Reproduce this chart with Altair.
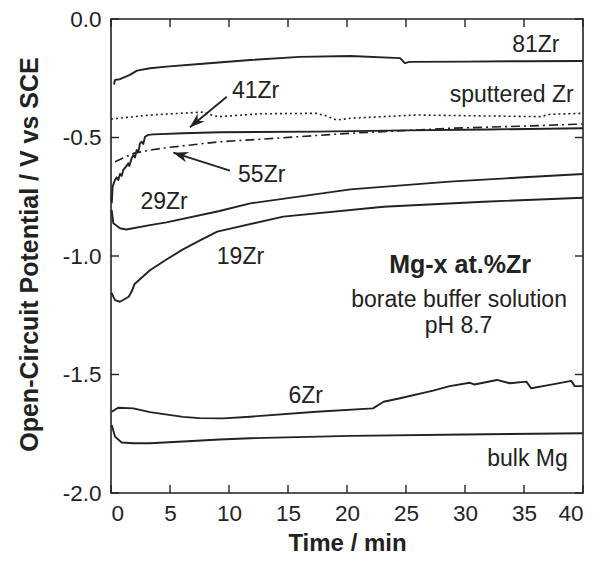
import altair as alt
import pandas as pd

# ---- data ----
t_81 = [0.25, 0.34, 0.76, 1.6, 2.2, 3.3, 4.7, 7.5, 11.8, 16, 20.3, 24.5, 24.9, 25.3, 30, 35, 40]
v_81 = [-0.276, -0.257, -0.254, -0.236, -0.218, -0.208, -0.201, -0.19, -0.173, -0.16, -0.156, -0.165, -0.186, -0.181, -0.180, -0.178, -0.177]

t_spz = [0, 3.3, 7.3, 7.8, 8.7, 9.2, 12.6, 17.4, 18.3, 19.1, 20.3, 25.9, 30, 36.4, 37.2, 40]
v_spz = [-0.422, -0.405, -0.394, -0.393, -0.408, -0.412, -0.400, -0.398, -0.410, -0.426, -0.419, -0.405, -0.408, -0.412, -0.402, -0.398]

t_41 = [0.06, 0.14, 0.34, 0.48, 0.62, 0.76, 0.9, 1.04, 1.27, 1.47, 1.55, 1.75, 1.89, 2.03, 2.18, 2.32, 2.46, 2.6, 2.74, 2.88, 3.16, 3.6, 6.1, 9.2, 17.4, 25, 32, 40]
v_41 = [-0.778, -0.707, -0.679, -0.668, -0.679, -0.654, -0.662, -0.637, -0.623, -0.609, -0.62, -0.588, -0.574, -0.584, -0.553, -0.56, -0.525, -0.518, -0.527, -0.497, -0.489, -0.487, -0.482, -0.478, -0.475, -0.470, -0.466, -0.461]

t_55 = [0.34, 1.9, 3.3, 4.7, 9.2, 11.8, 20.3, 28.7, 35, 40]
v_55 = [-0.602, -0.567, -0.553, -0.543, -0.518, -0.51, -0.482, -0.461, -0.452, -0.443]

t_29 = [0.06, 0.2, 0.76, 1.3, 3.3, 4.7, 9.2, 11.8, 20.3, 28.7, 35, 40]
v_29 = [-0.806, -0.862, -0.883, -0.888, -0.870, -0.858, -0.81, -0.778, -0.719, -0.686, -0.668, -0.654]

t_19 = [0.06, 0.34, 0.76, 1.5, 1.75, 2.0, 3.3, 4.7, 6.1, 7.5, 9, 14.6, 23.1, 31.6, 40]
v_19 = [-1.157, -1.186, -1.193, -1.172, -1.15, -1.118, -1.06, -1.015, -0.972, -0.935, -0.897, -0.834, -0.792, -0.771, -0.754]

t_6 = [0.06, 0.6, 1.9, 3.3, 6.1, 7.5, 9.5, 11.8, 17.4, 22.2, 23.1, 24.5, 27.3, 28.7, 30.4, 30.8, 32.7, 33.8, 35.2, 35.6, 37.2, 39, 39.3, 40]
v_6 = [-1.657, -1.64, -1.643, -1.659, -1.679, -1.684, -1.685, -1.678, -1.657, -1.643, -1.615, -1.6, -1.568, -1.549, -1.535, -1.542, -1.523, -1.537, -1.53, -1.558, -1.544, -1.527, -1.549, -1.549]

t_mg = [0.06, 0.34, 0.9, 1.9, 3.3, 6.1, 9.2, 11.8, 20.3, 30, 40]
v_mg = [-1.713, -1.762, -1.787, -1.79, -1.79, -1.783, -1.774, -1.769, -1.759, -1.753, -1.748]

label_text = ["81Zr", "41Zr", "sputtered Zr", "55Zr", "29Zr", "19Zr", "6Zr", "bulk Mg"]
label_t = [36.0, 12.25, 33.96, 12.77, 4.5, 10.97, 16.5, 35.3]
label_v = [-0.138, -0.335, -0.349, -0.689, -0.803, -1.035, -1.619, -1.886]

note_text = ["borate buffer solution", "pH 8.7"]
note_t = [29.5, 29.45]
note_v = [-1.215, -1.324]
head_text = ["Mg-x at.%Zr"]
head_t = [29.58]
head_v = [-1.072]

arrow_t0 = [9.81, 10.08]
arrow_v0 = [-0.328, -0.640]
arrow_t1 = [6.69, 5.28]
arrow_v1 = [-0.457, -0.564]
arrow_angle = [228.8, 287.6]

x_ticks = [0, 5, 10, 15, 20, 25, 30, 35, 40]
y_ticks = [0.0, -0.5, -1.0, -1.5, -2.0]

# ---- tables ----
def series(name, t, v):
    return pd.DataFrame({"series": name, "t": t, "v": v})

solid = pd.concat([
    series("81Zr", t_81, v_81),
    series("41Zr", t_41, v_41),
    series("29Zr", t_29, v_29),
    series("19Zr", t_19, v_19),
    series("6Zr", t_6, v_6),
    series("bulk Mg", t_mg, v_mg),
])
dotted = series("sputtered Zr", t_spz, v_spz)
dashdot = series("55Zr", t_55, v_55)

labels = pd.DataFrame({"text": label_text, "t": label_t, "v": label_v})
notes = pd.DataFrame({"text": note_text, "t": note_t, "v": note_v})
heads = pd.DataFrame({"text": head_text, "t": head_t, "v": head_v})
arrows = pd.DataFrame({"t": arrow_t0, "v": arrow_v0, "t1": arrow_t1, "v1": arrow_v1, "angle": arrow_angle})
heads_pts = pd.DataFrame({"t": arrow_t1, "v": arrow_v1, "angle": arrow_angle})
xt = pd.DataFrame({"t": x_ticks})
yt = pd.DataFrame({"v": y_ticks})

FONT = "Liberation Sans"
INK = "#222222"
W, H = 472, 474

xscale = alt.Scale(domain=[0, 40], nice=False, zero=False)
yscale = alt.Scale(domain=[-2, 0], nice=False, zero=False)

xaxis = alt.Axis(
    values=x_ticks, title="Time / min", grid=False, domain=False, ticks=False, tickSize=0,
    labelPadding=9, labelFontSize=22.5, titleY=57, titleBaseline="alphabetic")
yaxis = alt.Axis(
    values=y_ticks, title="Open-Circuit Potential / V vs SCE", grid=False, domain=False,
    ticks=False, tickSize=0, labelPadding=10, labelFontSize=22.5,
    labelExpr="datum.value == 0 ? '0.0' : '-' + format(abs(datum.value), '.1f')",
    titleX=-82, titleY=H / 2 - 2, titleAngle=270, titleAlign="center", titleBaseline="middle",
    titleFontSize=25)

X = alt.X("t:Q", scale=xscale, axis=xaxis)
Y = alt.Y("v:Q", scale=yscale, axis=yaxis)

solid_layer = alt.Chart(solid).mark_line(color=INK, strokeWidth=1.9, strokeJoin="round").encode(
    x=X, y=Y, detail="series:N", order=alt.Order("t:Q"))
dotted_layer = alt.Chart(dotted).mark_line(color=INK, strokeWidth=1.6, strokeDash=[2, 3]).encode(
    x=X, y=Y, order=alt.Order("t:Q"))
dashdot_layer = alt.Chart(dashdot).mark_line(color=INK, strokeWidth=1.6, strokeDash=[9, 4, 2, 4]).encode(
    x=X, y=Y, order=alt.Order("t:Q"))

label_layer = alt.Chart(labels).mark_text(font=FONT, fontSize=23, color=INK, align="center", baseline="alphabetic").encode(
    x=X, y=Y, text="text:N")
note_layer = alt.Chart(notes).mark_text(font=FONT, fontSize=23, color=INK, align="center", baseline="alphabetic").encode(
    x=X, y=Y, text="text:N")
head_layer = alt.Chart(heads).mark_text(font=FONT, fontSize=25, fontWeight="bold", color=INK, align="center", baseline="alphabetic").encode(
    x=X, y=Y, text="text:N")

arrow_line = alt.Chart(arrows).mark_rule(color=INK, strokeWidth=1.8).encode(
    x=X, y=Y, x2="t1:Q", y2="v1:Q")
arrow_head = alt.Chart(heads_pts).mark_point(
    shape="M0,0 L-0.6,1.65 L0,1.15 L0.6,1.65 Z", filled=True, color=INK, opacity=1, size=324, strokeWidth=0
).encode(x=X, y=Y, angle=alt.Angle("angle:Q", scale=None))

tick_bottom = alt.Chart(xt).mark_rule(color=INK, strokeWidth=1.4).encode(
    x=X, y=alt.value(H), y2=alt.value(H - 8))
tick_top = alt.Chart(xt).mark_rule(color=INK, strokeWidth=1.4).encode(
    x=X, y=alt.value(0), y2=alt.value(8))
tick_left = alt.Chart(yt).mark_rule(color=INK, strokeWidth=1.4).encode(
    y=Y, x=alt.value(0), x2=alt.value(8))
tick_right = alt.Chart(yt).mark_rule(color=INK, strokeWidth=1.4).encode(
    y=Y, x=alt.value(W), x2=alt.value(W - 8))

chart = alt.layer(
    solid_layer, dotted_layer, dashdot_layer,
    tick_bottom, tick_top, tick_left, tick_right,
    arrow_line, arrow_head,
    label_layer, note_layer, head_layer,
).properties(
    width=W, height=H,
    padding={"left": 103, "top": 11, "right": 15, "bottom": 63},
    autosize=alt.AutoSizeParams(type="none"),
    background="white",
).configure_view(
    stroke=INK, strokeWidth=1.6
).configure_axis(
    labelFont=FONT, titleFont=FONT, labelColor=INK, titleColor=INK,
    titleFontSize=24, titleFontWeight="bold"
)

chart.save("out.html", embed_options={"renderer": "svg", "actions": False})
